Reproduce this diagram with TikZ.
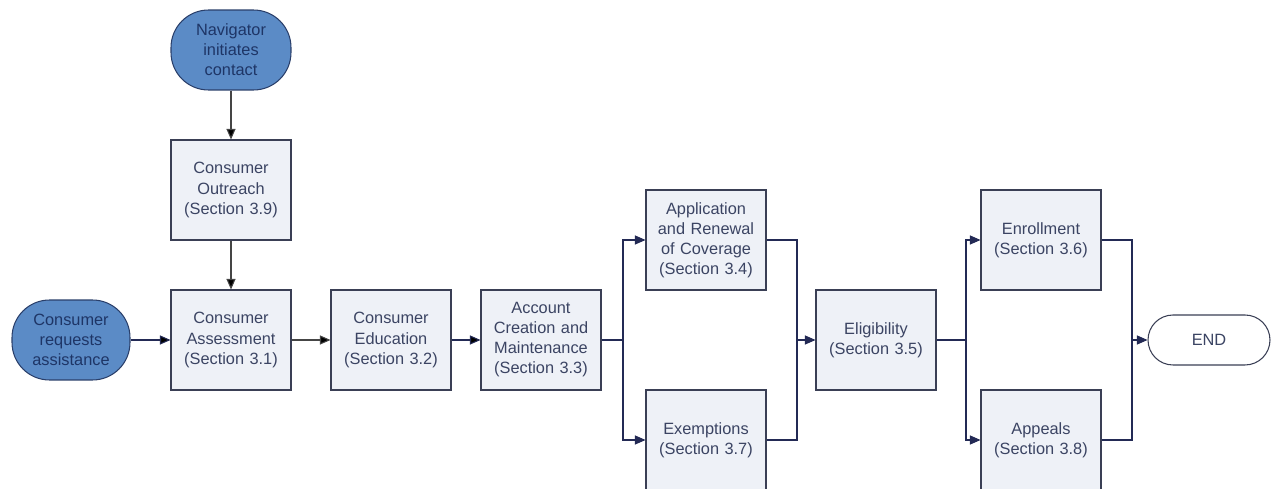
\documentclass[tikz,border=0pt]{standalone}
\usepackage{fontspec}
\setmainfont{Liberation Sans}
\usetikzlibrary{arrows.meta}
\definecolor{boxfill}{HTML}{EEF1F7}
\definecolor{boxline}{HTML}{3A3F55}
\definecolor{boxtext}{HTML}{3B4463}
\definecolor{termfill}{HTML}{5B8BC6}
\definecolor{termline}{HTML}{2A3F6A}
\definecolor{termtext}{HTML}{1E3566}
\definecolor{linkcol}{HTML}{232A55}
\definecolor{greylink}{HTML}{454545}
\tikzset{
  secbox/.style={rectangle,draw=boxline,fill=boxfill,text=boxtext,line width=0.6pt,
    minimum width=2.4cm,minimum height=2cm,text width=2.3cm,align=center,inner sep=0pt},
  termnode/.style={draw=termline,fill=termfill,text=termtext,line width=0.6pt,
    minimum width=2.4cm,minimum height=1.6cm,text width=2.2cm,align=center,
    rounded corners=0.75cm,inner sep=0pt},
  endnode/.style={draw=boxline,fill=white,text=boxtext,line width=0.6pt,
    minimum width=2.44cm,minimum height=1cm,rounded corners=0.5cm,inner sep=0pt},
  link/.style={draw=linkcol,line width=0.6pt},
  arr/.style={link,-{Triangle[length=2.1mm,width=1.8mm]}}
}
\begin{document}
\begin{tikzpicture}[x=0.02cm,y=-0.02cm,font=\fontsize{9.3}{11.4}\selectfont]
  \useasboundingbox (0,0) rectangle (1272,489);
  \begin{scope}[every node/.style={secbox}]
  \node (outr) at (231,190) {Consumer\\Outreach\\(Section 3.9)};
  \node (assm) at (231,340) {Consumer\\Assessment\\(Section 3.1)};
  \node (educ) at (391,340) {Consumer\\Education\\(Section 3.2)};
  \node (acct) at (541,340) {Account\\Creation and\\Maintenance\\(Section 3.3)};
  \node (appl) at (706,240) {Application\\and Renewal\\of Coverage\\(Section 3.4)};
  \node (exmp) at (706,440) {Exemptions\\(Section 3.7)};
  \node (elig) at (876,340) {Eligibility\\(Section 3.5)};
  \node (enrl) at (1041,240) {Enrollment\\(Section 3.6)};
  \node (appe) at (1041,440) {Appeals\\(Section 3.8)};
  \end{scope}
  \node[termnode] (navi) at (231,50) {Navigator\\initiates\\contact};
  \node[termnode,minimum width=2.36cm] (creq) at (71,340) {Consumer\\requests\\assistance};
  \node[endnode] (fin) at (1209,340) {END};
  % junctions
  \coordinate (split1) at (623,340);
  \coordinate (join1) at (797,340);
  \coordinate (split2) at (966,340);
  \coordinate (join2) at (1132,340);
  \path[arr,draw=greylink] (navi) edge (outr);
  \path[arr,draw=greylink] (outr) edge (assm);
  \path[arr] (creq) edge (assm);
  \path[arr,draw=greylink] (assm) edge (educ);
  \path[arr] (educ) edge (acct);
  \draw[link] (acct) -- (split1);
  \draw[arr] (split1) |- (appl);
  \draw[arr] (split1) |- (exmp);
  \draw[link] (appl) -| (join1);
  \draw[link] (exmp) -| (join1);
  \draw[arr] (join1) -- (elig);
  \draw[link] (elig) -- (split2);
  \draw[arr] (split2) |- (enrl);
  \draw[arr] (split2) |- (appe);
  \draw[link] (enrl) -| (join2);
  \draw[link] (appe) -| (join2);
  \draw[arr] (join2) -- (fin);
\end{tikzpicture}
\end{document}
